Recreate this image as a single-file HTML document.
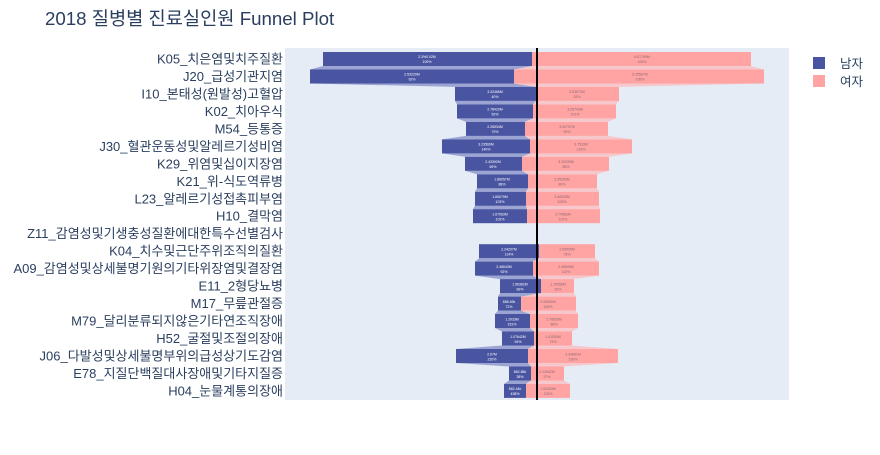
<!DOCTYPE html>
<html><head><meta charset="utf-8"><style>
body{margin:0;background:#fff;width:880px;height:450px;overflow:hidden;font-family:"Liberation Sans","Noto Sans CJK KR",sans-serif;}
</style></head><body>
<svg width="880" height="450" xmlns="http://www.w3.org/2000/svg" font-family="'Liberation Sans','Noto Sans CJK KR',sans-serif">
<text x="45" y="25" font-size="18.7" fill="#2a3f5f">2018 질병별 진료실인원 Funnel Plot</text>
<rect x="285" y="48" width="504" height="352" fill="#e5ecf6"/>
<g fill="#9ba4d2">
<polygon points="323,66 532,66 514,69.5 310,69.5"/>
<polygon points="310,83.5 514,83.5 536,86.9 455,86.9"/>
<polygon points="455,100.9 536,100.9 533,104.4 457,104.4"/>
<polygon points="457,118.4 533,118.4 525,121.9 466,121.9"/>
<polygon points="466,135.9 525,135.9 530,139.4 442,139.4"/>
<polygon points="442,153.4 530,153.4 522,156.8 465,156.8"/>
<polygon points="465,170.8 522,170.8 528,174.3 477,174.3"/>
<polygon points="477,188.3 528,188.3 526,191.8 475,191.8"/>
<polygon points="475,205.8 526,205.8 527,209.2 473,209.2"/>
<polygon points="479,258.2 539,258.2 533,261.6 475,261.6"/>
<polygon points="475,275.6 533,275.6 541,279.1 500,279.1"/>
<polygon points="500,293.1 541,293.1 521,296.6 498,296.6"/>
<polygon points="498,310.6 521,310.6 530,314 495,314"/>
<polygon points="495,328 530,328 534,331.5 502,331.5"/>
<polygon points="502,345.5 534,345.5 528,349 456,349"/>
<polygon points="456,363 528,363 531,366.5 509,366.5"/>
<polygon points="509,380.5 531,380.5 526,383.9 504,383.9"/>
</g>
<g fill="#f6c8cb">
<polygon points="532,66 751,66 764,69.5 514,69.5"/>
<polygon points="514,83.5 764,83.5 619,86.9 536,86.9"/>
<polygon points="536,100.9 619,100.9 616,104.4 533,104.4"/>
<polygon points="533,118.4 616,118.4 608,121.9 525,121.9"/>
<polygon points="525,135.9 608,135.9 632,139.4 530,139.4"/>
<polygon points="530,153.4 632,153.4 609,156.8 522,156.8"/>
<polygon points="522,170.8 609,170.8 597,174.3 528,174.3"/>
<polygon points="528,188.3 597,188.3 599,191.8 526,191.8"/>
<polygon points="526,205.8 599,205.8 600,209.2 527,209.2"/>
<polygon points="539,258.2 595,258.2 599,261.6 533,261.6"/>
<polygon points="533,275.6 599,275.6 574,279.1 541,279.1"/>
<polygon points="541,293.1 574,293.1 576,296.6 521,296.6"/>
<polygon points="521,310.6 576,310.6 578,314 530,314"/>
<polygon points="530,328 578,328 572,331.5 534,331.5"/>
<polygon points="534,345.5 572,345.5 618,349 528,349"/>
<polygon points="528,363 618,363 564,366.5 531,366.5"/>
<polygon points="531,380.5 564,380.5 570,383.9 526,383.9"/>
</g>
<g fill="#4a55a2">
<rect x="323" y="52" width="209" height="14"/>
<rect x="310" y="69.5" width="204" height="14"/>
<rect x="455" y="86.9" width="81" height="14"/>
<rect x="457" y="104.4" width="76" height="14"/>
<rect x="466" y="121.9" width="59" height="14"/>
<rect x="442" y="139.4" width="88" height="14"/>
<rect x="465" y="156.8" width="57" height="14"/>
<rect x="477" y="174.3" width="51" height="14"/>
<rect x="475" y="191.8" width="51" height="14"/>
<rect x="473" y="209.2" width="54" height="14"/>
<rect x="479" y="244.2" width="60" height="14"/>
<rect x="475" y="261.6" width="58" height="14"/>
<rect x="500" y="279.1" width="41" height="14"/>
<rect x="498" y="296.6" width="23" height="14"/>
<rect x="495" y="314" width="35" height="14"/>
<rect x="502" y="331.5" width="32" height="14"/>
<rect x="456" y="349" width="72" height="14"/>
<rect x="509" y="366.5" width="22" height="14"/>
<rect x="504" y="383.9" width="22" height="14"/>
</g>
<g fill="#ffa3a3">
<rect x="532" y="52" width="219" height="14"/>
<rect x="514" y="69.5" width="250" height="14"/>
<rect x="536" y="86.9" width="83" height="14"/>
<rect x="533" y="104.4" width="83" height="14"/>
<rect x="525" y="121.9" width="83" height="14"/>
<rect x="530" y="139.4" width="102" height="14"/>
<rect x="522" y="156.8" width="87" height="14"/>
<rect x="528" y="174.3" width="69" height="14"/>
<rect x="526" y="191.8" width="73" height="14"/>
<rect x="527" y="209.2" width="73" height="14"/>
<rect x="539" y="244.2" width="56" height="14"/>
<rect x="533" y="261.6" width="66" height="14"/>
<rect x="541" y="279.1" width="33" height="14"/>
<rect x="521" y="296.6" width="55" height="14"/>
<rect x="530" y="314" width="48" height="14"/>
<rect x="534" y="331.5" width="38" height="14"/>
<rect x="528" y="349" width="90" height="14"/>
<rect x="531" y="366.5" width="33" height="14"/>
<rect x="526" y="383.9" width="44" height="14"/>
</g>
<g font-size="3.5" fill="#fff" text-anchor="middle">
<text x="427" y="58">2.3%0.02M</text><text x="427" y="63">100%</text>
<text x="412" y="75.5">2.53220M</text><text x="412" y="80.5">92%</text>
<text x="495" y="93">3.32466M</text><text x="495" y="98">40%</text>
<text x="495" y="110.5">2.78420M</text><text x="495" y="115.5">52%</text>
<text x="495" y="128">2.26534M</text><text x="495" y="133">70%</text>
<text x="486" y="145.5">3.23560M</text><text x="486" y="150.5">140%</text>
<text x="493" y="163">2.43392M</text><text x="493" y="168">69%</text>
<text x="502" y="180.5">1.86057M</text><text x="502" y="185.5">88%</text>
<text x="500" y="198">1.66079M</text><text x="500" y="203">103%</text>
<text x="500" y="215.5">1.67063M</text><text x="500" y="220.5">102%</text>
<text x="509" y="250.5">2.24207M</text><text x="509" y="255.5">114%</text>
<text x="504" y="268">2.46643M</text><text x="504" y="273">92%</text>
<text x="520" y="285.5">1.56362M</text><text x="520" y="290.5">69%</text>
<text x="509" y="303">858.49k</text><text x="509" y="308">72%</text>
<text x="512" y="320.5">1.2933M</text><text x="512" y="325.5">151%</text>
<text x="518" y="338">1.07642M</text><text x="518" y="343">94%</text>
<text x="492" y="355.5">2.67M</text><text x="492" y="360.5">220%</text>
<text x="520" y="373">862.85k</text><text x="520" y="378">38%</text>
<text x="515" y="390">862.44k</text><text x="515" y="395">438%</text>
</g>
<g font-size="3.5" fill="#8a6a70" text-anchor="middle">
<text x="642" y="58">6.67769M</text><text x="642" y="63">100%</text>
<text x="640" y="75.5">5.25567M</text><text x="640" y="80.5">105%</text>
<text x="577" y="93">3.03572M</text><text x="577" y="98">33%</text>
<text x="575" y="110.5">3.05743M</text><text x="575" y="115.5">101%</text>
<text x="567" y="128">3.00797M</text><text x="567" y="133">99%</text>
<text x="581" y="145.5">3.7533M</text><text x="581" y="150.5">123%</text>
<text x="566" y="163">3.20333M</text><text x="566" y="168">85%</text>
<text x="562" y="180.5">2.55283M</text><text x="562" y="185.5">80%</text>
<text x="562" y="198">2.68333M</text><text x="562" y="203">105%</text>
<text x="563" y="215.5">2.74583M</text><text x="563" y="220.5">102%</text>
<text x="567" y="250.5">2.06525M</text><text x="567" y="255.5">75%</text>
<text x="566" y="268">2.48005M</text><text x="566" y="273">120%</text>
<text x="558" y="285.5">1.29558M</text><text x="558" y="290.5">52%</text>
<text x="548" y="303">2.06050M</text><text x="548" y="308">159%</text>
<text x="554" y="320.5">1.76832M</text><text x="554" y="325.5">86%</text>
<text x="553" y="338">1.41530M</text><text x="553" y="343">79%</text>
<text x="573" y="355.5">3.34681M</text><text x="573" y="360.5">236%</text>
<text x="547" y="373">1.22542M</text><text x="547" y="378">37%</text>
<text x="548" y="390">1.53284M</text><text x="548" y="395">125%</text>
</g>
<line x1="537" y1="48" x2="537" y2="400" stroke="#000" stroke-width="2"/>
<g font-size="13" fill="#2a3f5f" text-anchor="end">
<text x="283" y="63.5">K05_치은염및치주질환</text>
<text x="283" y="81">J20_급성기관지염</text>
<text x="283" y="98.4">I10_본태성(원발성)고혈압</text>
<text x="283" y="115.9">K02_치아우식</text>
<text x="283" y="133.4">M54_등통증</text>
<text x="283" y="150.9">J30_혈관운동성및알레르기성비염</text>
<text x="283" y="168.3">K29_위염및십이지장염</text>
<text x="283" y="185.8">K21_위-식도역류병</text>
<text x="283" y="203.3">L23_알레르기성접촉피부염</text>
<text x="283" y="220.7">H10_결막염</text>
<text x="283" y="238.2">Z11_감염성및기생충성질환에대한특수선별검사</text>
<text x="283" y="255.7">K04_치수및근단주위조직의질환</text>
<text x="283" y="273.1">A09_감염성및상세불명기원의기타위장염및결장염</text>
<text x="283" y="290.6">E11_2형당뇨병</text>
<text x="283" y="308.1">M17_무릎관절증</text>
<text x="283" y="325.5">M79_달리분류되지않은기타연조직장애</text>
<text x="283" y="343">H52_굴절및조절의장애</text>
<text x="283" y="360.5">J06_다발성및상세불명부위의급성상기도감염</text>
<text x="283" y="378">E78_지질단백질대사장애및기타지질증</text>
<text x="283" y="395.4">H04_눈물계통의장애</text>
</g>
<rect x="813" y="57" width="12" height="12" fill="#4a55a2"/>
<text x="840" y="68" font-size="12.5" fill="#2a3f5f">남자</text>
<rect x="813" y="75" width="12" height="12" fill="#ffa3a3"/>
<text x="840" y="86" font-size="12.5" fill="#2a3f5f">여자</text>
</svg>
</body></html>
